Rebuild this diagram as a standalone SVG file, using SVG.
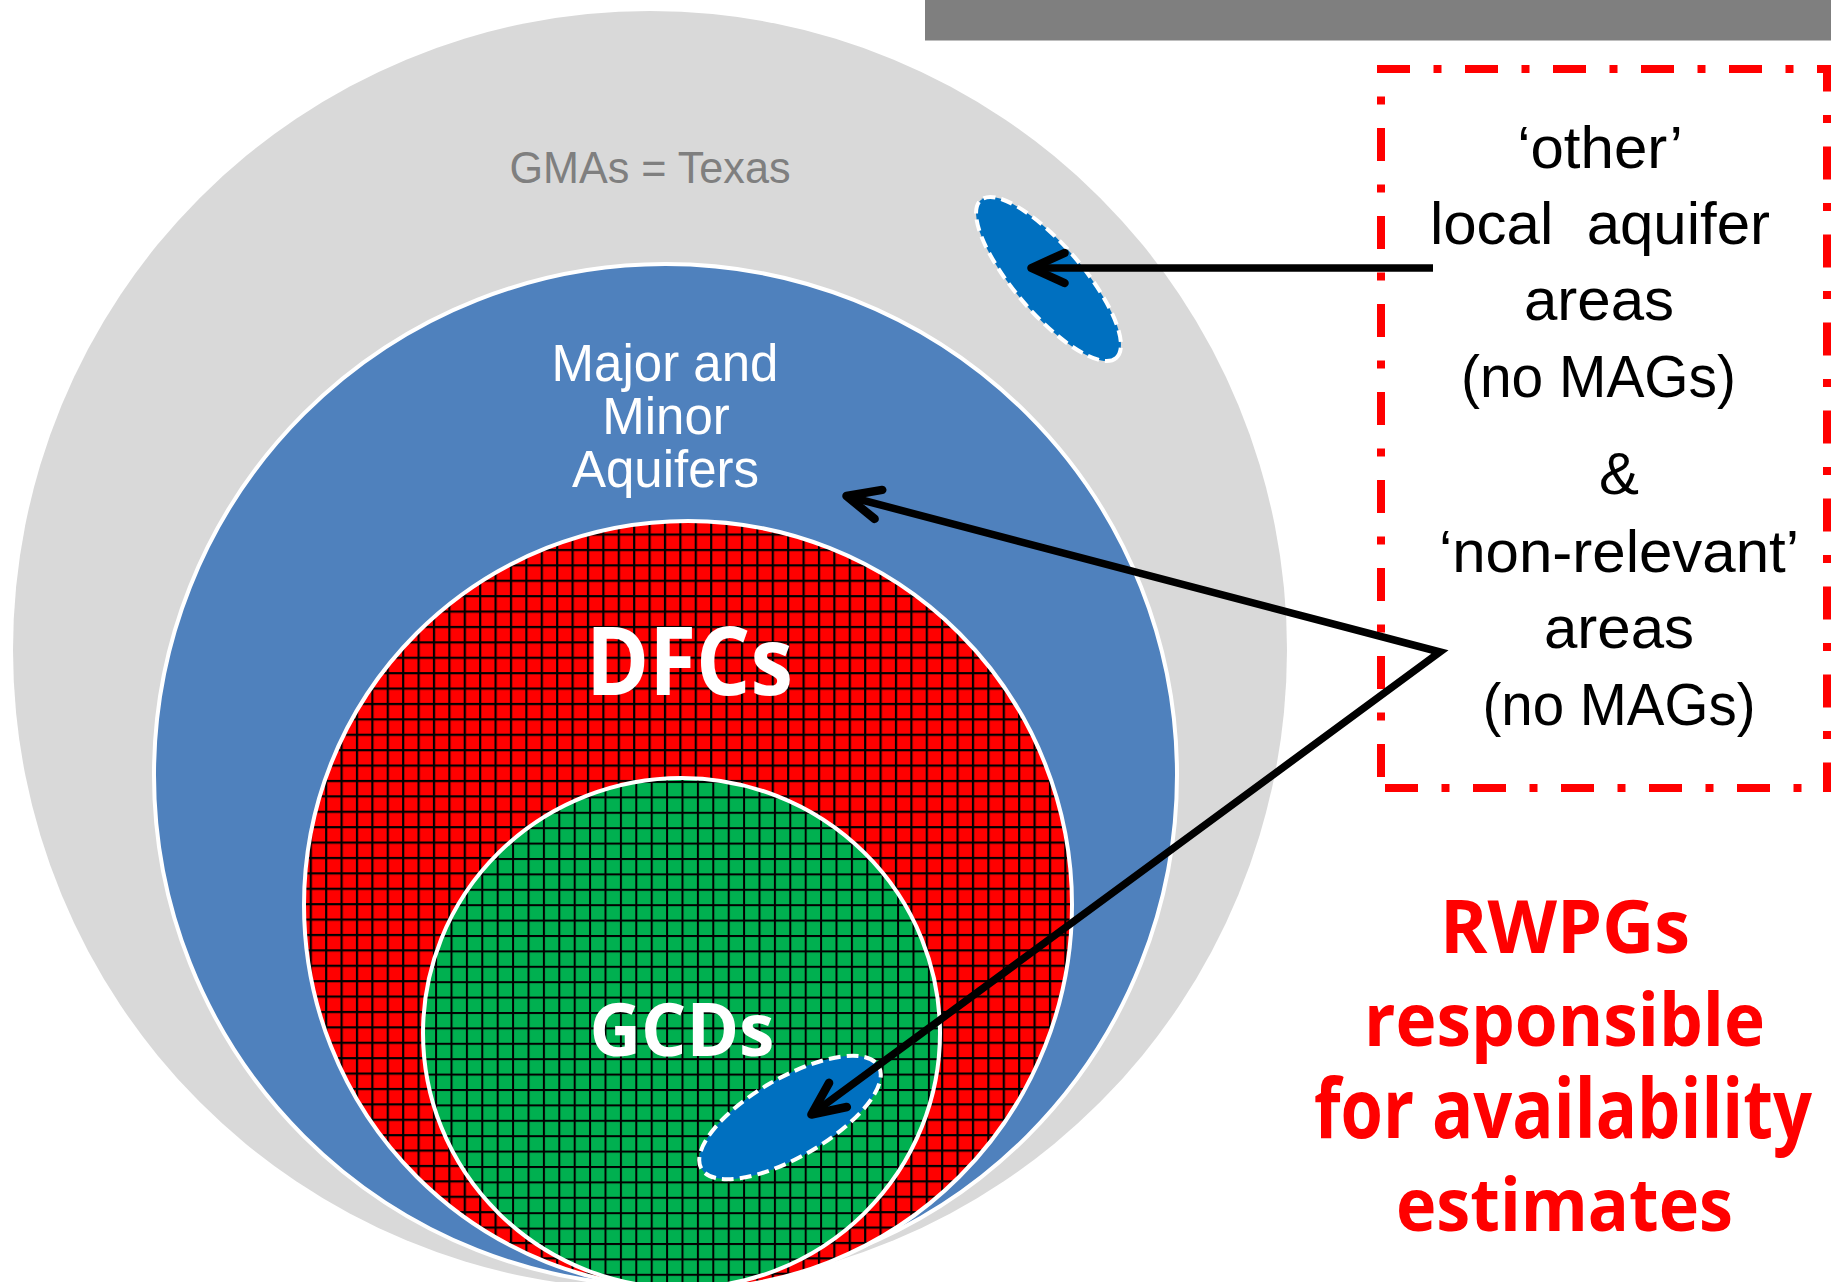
<svg xmlns="http://www.w3.org/2000/svg" width="1831" height="1282" viewBox="0 0 1831 1282">
<defs>
<style>
.ring{stroke:#fff;stroke-width:4}
.loc{fill:#0070c0;stroke:#fff;stroke-width:4;stroke-dasharray:12 6}
.wt{fill:#fff;font-family:"Liberation Sans",Arial,sans-serif;font-size:51px;text-anchor:middle}
.bt{fill:#fff;font-family:"Open Sans","Liberation Sans",sans-serif;font-weight:bold;text-anchor:middle}
.note{fill:#000;font-family:"Liberation Sans",Arial,sans-serif;font-size:60px;text-anchor:middle}
.rw{fill:#ff0000;font-family:"Open Sans","Liberation Sans",sans-serif;font-weight:bold;font-size:73px;text-anchor:middle}
.dash{stroke:#ff0000;stroke-width:8;stroke-dasharray:33 23.5 8 23.5;fill:none}
.conn{fill:none;stroke:#000;stroke-width:7.5;stroke-linejoin:miter}
</style>
<pattern id="gridR" patternUnits="userSpaceOnUse" x="1.7" y="9.9" width="15.4" height="15.4">
<rect width="15.4" height="15.4" fill="#ff0000"/>
<rect width="2.2" height="15.4" fill="#000"/>
<rect width="15.4" height="2.2" fill="#000"/>
</pattern>
<pattern id="gridG" patternUnits="userSpaceOnUse" x="3.9" y="11" width="15.4" height="15.4">
<rect width="15.4" height="15.4" fill="#00b050"/>
<rect width="2" height="15.4" fill="#000"/>
<rect width="15.4" height="2" fill="#000"/>
</pattern>
<marker id="head" markerUnits="userSpaceOnUse" viewBox="-45 -30 60 60" markerWidth="60" markerHeight="60" refX="0" refY="0" orient="auto-start-reverse" overflow="visible">
<path d="M-33,-15 L0,0 L-33,15" fill="none" stroke="#000" stroke-width="8.5" stroke-linecap="round" stroke-linejoin="round"/>
</marker>
</defs>

<g id="header-bar">
<rect x="925" y="0" width="906" height="40.5" fill="#7f7f7f"/>
</g>

<g id="gmas">
<ellipse cx="650" cy="650" rx="637" ry="639" fill="#d9d9d9"/>
<text x="650" y="183" fill="#7f7f7f" font-family="'Liberation Sans',Arial,sans-serif" font-size="45" text-anchor="middle" textLength="281" lengthAdjust="spacingAndGlyphs">GMAs = Texas</text>
</g>

<g id="aquifers">
<ellipse class="ring" cx="665.5" cy="775" rx="511.5" ry="511" fill="#4f81bd"/>
<text class="wt" x="665" y="381">Major and</text>
<text class="wt" x="666" y="434">Minor</text>
<text class="wt" x="665.5" y="487">Aquifers</text>
</g>

<g id="dfcs">
<ellipse class="ring" cx="688" cy="905" rx="384" ry="384" fill="url(#gridR)"/>
<text class="bt" x="689.5" y="695" font-size="95" textLength="207" lengthAdjust="spacingAndGlyphs">DFCs</text>
</g>

<g id="gcds">
<ellipse class="ring" cx="681.5" cy="1033" rx="258.5" ry="255" fill="url(#gridG)"/>
<text class="bt" x="682" y="1056" font-size="74" textLength="185" lengthAdjust="spacingAndGlyphs">GCDs</text>
</g>

<g id="local-area-1">
<ellipse class="loc" cx="1048.5" cy="279" rx="104" ry="34" transform="rotate(49.4 1048.5 279)" stroke-width="3.5" stroke-dasharray="12 5"/>
</g>

<g id="local-area-2">
<ellipse class="loc" cx="790" cy="1117.5" rx="102.4" ry="39.5" transform="rotate(-30.1 790 1117.5)" stroke-width="4.5" stroke-dasharray="13 7"/>
</g>

<g id="note-box">
<line class="dash" x1="1377" y1="69" x2="1831" y2="69" stroke-dashoffset="0"/>
<line class="dash" x1="1827" y1="65" x2="1827" y2="792" stroke-dashoffset="6.5"/>
<line class="dash" x1="1381" y1="788" x2="1827" y2="788" stroke-dashoffset="84"/>
<line class="dash" x1="1381" y1="69" x2="1381" y2="792" stroke-dashoffset="29"/>
<text class="note" x="1600" y="168">‘other’</text>
<text class="note" x="1600" y="244" xml:space="preserve">local  aquifer</text>
<text class="note" x="1599" y="320">areas</text>
<text class="note" x="1598.5" y="397" textLength="275" lengthAdjust="spacingAndGlyphs">(no MAGs)</text>
<text class="note" x="1619" y="494">&amp;</text>
<text class="note" x="1619" y="572">‘non-relevant’</text>
<text class="note" x="1619" y="648">areas</text>
<text class="note" x="1619" y="725" textLength="273" lengthAdjust="spacingAndGlyphs">(no MAGs)</text>
</g>

<g id="rwpgs">
<text class="rw" x="1565" y="953" textLength="250" lengthAdjust="spacingAndGlyphs">RWPGs</text>
<text class="rw" x="1564.5" y="1046" textLength="401" lengthAdjust="spacingAndGlyphs">responsible</text>
<text class="rw" x="1563" y="998.25" font-size="64" transform="matrix(1 0 0 1.14 0 0)" textLength="498" lengthAdjust="spacingAndGlyphs">for availability</text>
<text class="rw" x="1564.5" y="1231" textLength="337" lengthAdjust="spacingAndGlyphs">estimates</text>
</g>

<g id="connectors">
<path class="conn" d="M1433,268 L1031.5,268" marker-end="url(#head)"/>
<path class="conn" d="M846.5,496 L1440,652 L811.4,1114.5" marker-start="url(#head)" marker-end="url(#head)"/>
</g>
</svg>
